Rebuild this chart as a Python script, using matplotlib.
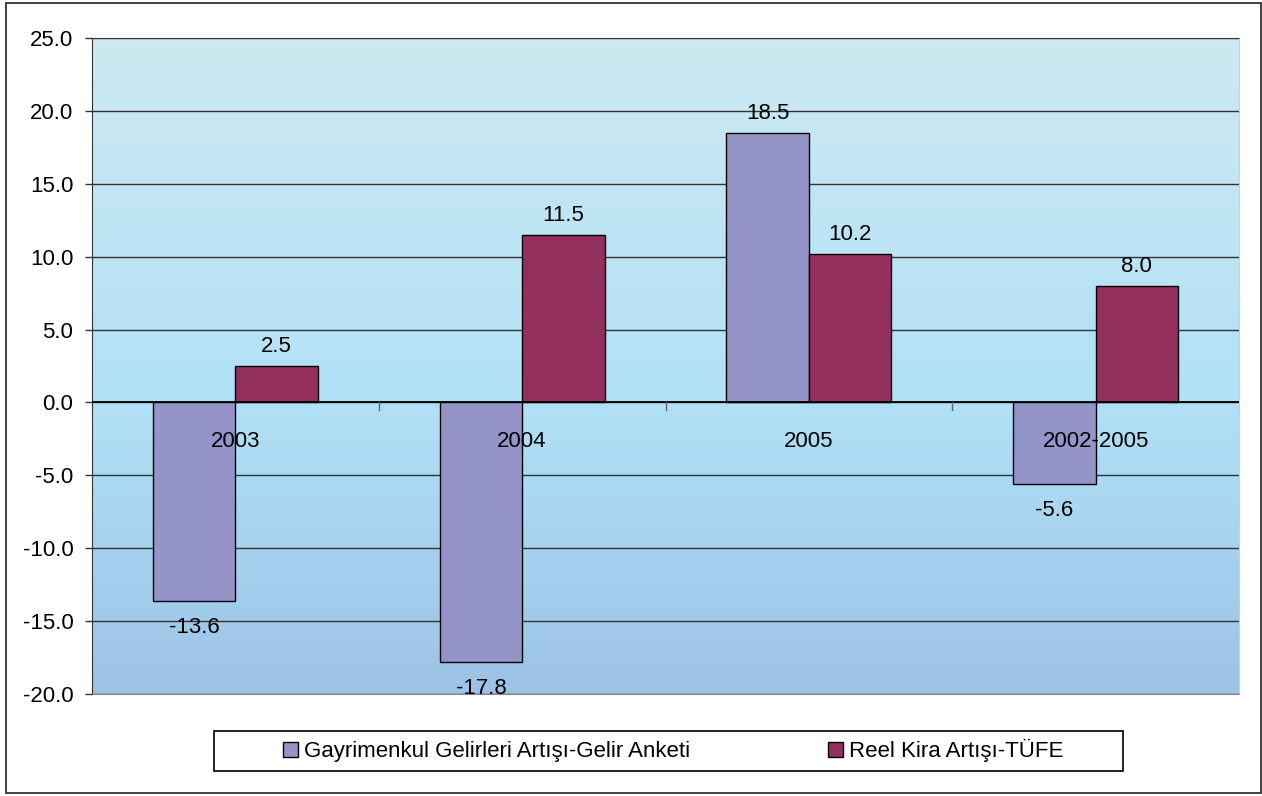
import matplotlib
matplotlib.use("Agg")
import matplotlib.pyplot as plt
import numpy as np
from matplotlib import font_manager
from matplotlib.colors import LinearSegmentedColormap
from matplotlib.patches import Rectangle

names = {f.name for f in font_manager.fontManager.ttflist}
if 'Liberation Sans Narrow' in names:
    FONT, FS = 'Liberation Sans Narrow', 19
else:
    FONT, FS = 'Liberation Sans', 16
plt.rcParams['font.family'] = [FONT, 'DejaVu Sans']

categories = ["2003", "2004", "2005", "2002-2005"]
gelir = [-13.6, -17.8, 18.5, -5.6]
kira = [2.5, 11.5, 10.2, 8.0]
series_names = ["Gayrimenkul Gelirleri Artışı-Gelir Anketi", "Reel Kira Artışı-TÜFE"]
yticks = [-20, -15, -10, -5, 0, 5, 10, 15, 20, 25]

c1 = "#9594c8"
c2 = "#93305e"

W, H = 1262, 796
fig = plt.figure(figsize=(W/100, H/100), dpi=100)
fig.patches.append(Rectangle((5.5/W, 1-793/H), (1261-5.5)/W, (793-2.5)/H, transform=fig.transFigure,
                             fill=False, edgecolor="#333333", linewidth=1.3))
ax = fig.add_axes([92/W, 1-694/H, (1239-92)/W, (694-38)/H])

ymin, ymax = -20, 25
cmap = LinearSegmentedColormap.from_list("bg", [(0, "#9cc3e6"), (20/45, "#b1e1f7"), (1, "#cde9f1")])
grad = np.linspace(0, 1, 256).reshape(-1, 1)
ax.imshow(grad, aspect="auto", cmap=cmap, origin="lower",
          extent=[-0.5, len(categories)-0.5, ymin, ymax], zorder=0)

x = np.arange(len(categories))
w = 0.2875
b1 = ax.bar(x - w/2, gelir, w, color=c1, edgecolor="black", linewidth=1, zorder=3, label=series_names[0])
b2 = ax.bar(x + w/2, kira, w, color=c2, edgecolor="black", linewidth=1, zorder=3, label=series_names[1])

for bars, vals in ((b1, gelir), (b2, kira)):
    for r, v in zip(bars, vals):
        cx = r.get_x() + r.get_width()/2
        off = 10 if v >= 0 else -23
        ax.annotate(f"{v:.1f}", (cx, v), xytext=(0, off), textcoords="offset points",
                    ha="center", va="baseline", fontsize=FS, zorder=5)

for i, c in enumerate(categories):
    ax.annotate(c, (i, 0), xytext=(0, -32), textcoords="offset points", ha="center", va="baseline",
                fontsize=FS, zorder=5)

ax.set_xlim(-0.5, len(categories)-0.5)
ax.set_ylim(ymin, ymax)
ax.set_yticks(yticks)
ax.set_yticklabels([f"{t:.1f}" for t in yticks], fontsize=FS)
ax.yaxis.grid(True, color="#333333", linewidth=1, zorder=1)
ax.set_axisbelow(False)
ax.tick_params(axis="y", direction="out", length=5, width=1, color="#333333", pad=8.5)
ax.set_xticks([])
ax.axhline(0, color="black", linewidth=1.3, zorder=4)
for b in np.arange(0.5, len(categories)-0.5, 1):
    ax.plot([b, b], [0, -0.55], color="#666666", linewidth=1, zorder=4)

ax.spines["left"].set_color("#333333")
ax.spines["bottom"].set_color("#888888")
ax.spines["top"].set_color("#888888")
ax.spines["right"].set_color("#cfcfcf")

fig.patches.append(Rectangle((214/W, 1-771/H), (1123-214)/W, 40/H, transform=fig.transFigure,
                             fill=False, edgecolor="black", linewidth=1.2))
leg = fig.legend(handles=[b1, b2], labels=series_names, loc="center",
                 bbox_to_anchor=(673/W, 1-750.5/H), ncol=2, frameon=False,
                 fontsize=FS, handlelength=0.68, handleheight=0.68, handletextpad=0.27,
                 columnspacing=6.2, borderpad=0.2)

fig.savefig("out.png", dpi=100)
